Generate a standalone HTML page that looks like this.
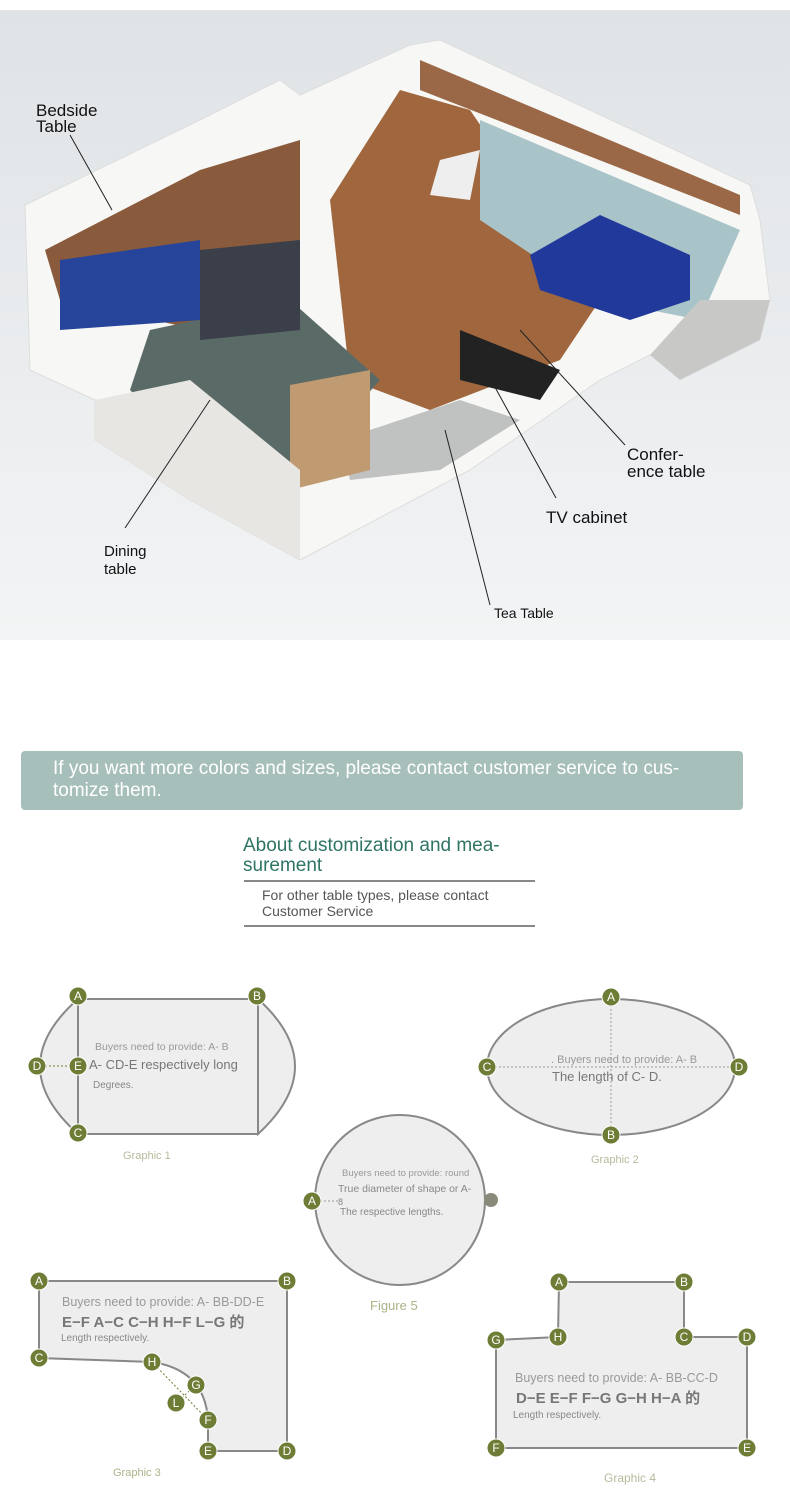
<!DOCTYPE html>
<html><head><meta charset="utf-8"><style>
html,body{margin:0;padding:0;background:#fff;width:790px;height:1506px;overflow:hidden}
svg{display:block}
text{font-family:"Liberation Sans","Noto Sans CJK SC",sans-serif}
</style></head><body>
<svg width="790" height="1506" viewBox="0 0 790 1506" xmlns="http://www.w3.org/2000/svg">
<defs>
<linearGradient id="bg" x1="0" y1="0" x2="0" y2="1"><stop offset="0" stop-color="#dfe3e6"/><stop offset="1" stop-color="#f3f4f5"/></linearGradient>
<g id="dot"><circle r="9" fill="#6e7d35" stroke="#fff" stroke-width="1"/></g>
</defs>
<rect x="0" y="10" width="790" height="630" fill="url(#bg)"/>
<polygon points="25,205 200,120 280,80 300,95 410,45 440,40 750,185 760,220 770,300 650,355 600,380 470,470 300,560 190,500 95,440 95,400 30,370" fill="#f7f7f5" stroke="#ddd"/>
<polygon points="45,250 200,170 300,140 300,300 200,330 60,300" fill="#8a5a3c"/>
<polygon points="330,200 400,90 470,110 600,300 560,360 430,410 350,380" fill="#a0673e"/>
<polygon points="150,330 290,300 380,380 300,470 190,450 130,390" fill="#5a6a66"/>
<polygon points="420,60 740,195 740,215 420,90" fill="#9a6846"/>
<polygon points="480,120 740,230 700,320 600,300 480,220" fill="#a9c4c8"/>
<polygon points="60,260 200,240 200,320 60,330" fill="#26449a"/>
<polygon points="200,250 300,240 300,330 200,340" fill="#3a3f4a"/>
<polygon points="530,255 600,215 690,255 690,300 630,320 540,290" fill="#21399a"/>
<polygon points="440,160 480,150 470,200 430,195" fill="#eee"/>
<polygon points="460,330 560,370 540,400 460,380" fill="#222"/>
<polygon points="340,440 460,400 520,420 440,470 350,480" fill="#bfc2c0"/>
<polygon points="290,385 370,370 370,470 290,490" fill="#c09a70"/>
<polygon points="95,400 190,380 300,470 300,560 190,500 95,440" fill="#e8e6e2"/>
<polygon points="650,355 700,300 770,300 760,340 680,380" fill="#c8c8c6"/>
<g stroke="#222" stroke-width="1" fill="none">
<line x1="70" y1="135" x2="112" y2="210"/>
<line x1="125" y1="528" x2="210" y2="400"/>
<line x1="625" y1="445" x2="520" y2="330"/>
<line x1="556" y1="498" x2="480" y2="360"/>
<line x1="490" y1="605" x2="445" y2="430"/>
</g>
<g fill="#111" font-size="17">
<text x="36" y="116">Bedside</text><text x="36" y="132">Table</text>
<text x="104" y="556" font-size="15">Dining</text><text x="104" y="574" font-size="15">table</text>
<text x="627" y="460">Confer-</text><text x="627" y="477">ence table</text>
<text x="546" y="523">TV cabinet</text>
<text x="494" y="618" font-size="14">Tea Table</text>
</g>
<rect x="21" y="751" width="722" height="59" rx="4" fill="#a7bfbb"/>
<text x="53" y="774" fill="#fff" font-size="19">If you want more colors and sizes, please contact customer service to cus-</text>
<text x="53" y="796" fill="#fff" font-size="19">tomize them.</text>
<text x="243" y="851" fill="#2f7464" font-size="19">About customization and mea-</text>
<text x="243" y="871" fill="#2f7464" font-size="19">surement</text>
<line x1="244" y1="881" x2="535" y2="881" stroke="#111" stroke-width="1"/>
<text x="262" y="900" fill="#555" font-size="14">For other table types, please contact</text>
<text x="262" y="916" fill="#555" font-size="14">Customer Service</text>
<line x1="244" y1="926" x2="535" y2="926" stroke="#111" stroke-width="1"/>
<g stroke="#888" stroke-width="2" fill="#eeeeee">
<path d="M78,999 Q2,1066 78,1134 Z"/>
<path d="M258,999 Q332,1066 258,1134 Z"/>
<rect x="78" y="999" width="180" height="135"/>
</g>
<line x1="37" y1="1066" x2="78" y2="1066" stroke="#6e7d35" stroke-dasharray="2,2"/>
<text x="95" y="1050" fill="#999" font-size="10.5">Buyers need to provide: A- B</text>
<text x="89" y="1069" fill="#777" font-size="13">A- CD-E respectively long</text>
<text x="93" y="1088" fill="#888" font-size="10">Degrees.</text>
<text x="123" y="1159" fill="#b4bc9c" font-size="11">Graphic 1</text>
<ellipse cx="611" cy="1067" rx="124" ry="68" fill="#eeeeee" stroke="#888" stroke-width="2"/>
<g stroke="#999" stroke-dasharray="2,2"><line x1="487" y1="1067" x2="739" y2="1067"/><line x1="611" y1="997" x2="611" y2="1135"/></g>
<text x="551" y="1063" fill="#999" font-size="11">. Buyers need to provide: A- B</text>
<text x="552" y="1081" fill="#777" font-size="13">The length of C- D.</text>
<text x="591" y="1163" fill="#b4bc9c" font-size="11">Graphic 2</text>
<circle cx="400" cy="1200" r="85" fill="#eeeeee" stroke="#888" stroke-width="2"/>
<line x1="312" y1="1201" x2="340" y2="1201" stroke="#999" stroke-dasharray="2,2"/>
<text x="342" y="1176" fill="#999" font-size="9.5">Buyers need to provide: round</text>
<text x="338" y="1192" fill="#888" font-size="10.5">True diameter of shape or A-</text>
<text x="338" y="1205" fill="#888" font-size="9">8</text>
<text x="340" y="1215" fill="#888" font-size="10">The respective lengths.</text>
<circle cx="491" cy="1200" r="7" fill="#8a8a7a"/>
<text x="370" y="1310" fill="#a9b48a" font-size="13">Figure 5</text>
<path d="M39,1281 L287,1281 L287,1451 L208,1451 L208,1420 Q205,1370 152,1362 L39,1358 Z" fill="#eeeeee" stroke="#888" stroke-width="2"/>
<g stroke="#6e7d35" stroke-dasharray="2,2"><line x1="152" y1="1362" x2="208" y2="1420"/><line x1="176" y1="1403" x2="196" y2="1385"/></g>
<text x="62" y="1306" fill="#999" font-size="12.5">Buyers need to provide: A- BB-DD-E</text>
<text x="62" y="1327" fill="#777" font-size="15" font-weight="bold">E−F A−C C−H H−F L−G 的</text>
<text x="61" y="1341" fill="#888" font-size="10">Length respectively.</text>
<text x="113" y="1476" fill="#a9b48a" font-size="11">Graphic 3</text>
<path d="M559,1282 L684,1282 L684,1337 L747,1337 L747,1448 L496,1448 L496,1340 L558,1337 Z" fill="#eeeeee" stroke="#888" stroke-width="2"/>
<text x="515" y="1382" fill="#999" font-size="12.5">Buyers need to provide: A- BB-CC-D</text>
<text x="516" y="1403" fill="#777" font-size="15" font-weight="bold">D−E E−F F−G G−H H−A 的</text>
<text x="513" y="1418" fill="#888" font-size="10">Length respectively.</text>
<text x="604" y="1482" fill="#b4bc9c" font-size="12">Graphic 4</text>
<g font-size="12" fill="#fff" text-anchor="middle">
<g transform="translate(78,996)"><use href="#dot"/><text y="4">A</text></g>
<g transform="translate(257,996)"><use href="#dot"/><text y="4">B</text></g>
<g transform="translate(37,1066)"><use href="#dot"/><text y="4">D</text></g>
<g transform="translate(78,1066)"><use href="#dot"/><text y="4">E</text></g>
<g transform="translate(78,1133)"><use href="#dot"/><text y="4">C</text></g>
<g transform="translate(611,997)"><use href="#dot"/><text y="4">A</text></g>
<g transform="translate(611,1135)"><use href="#dot"/><text y="4">B</text></g>
<g transform="translate(487,1067)"><use href="#dot"/><text y="4">C</text></g>
<g transform="translate(739,1067)"><use href="#dot"/><text y="4">D</text></g>
<g transform="translate(312,1201)"><use href="#dot"/><text y="4">A</text></g>
<g transform="translate(39,1281)"><use href="#dot"/><text y="4">A</text></g>
<g transform="translate(287,1281)"><use href="#dot"/><text y="4">B</text></g>
<g transform="translate(39,1358)"><use href="#dot"/><text y="4">C</text></g>
<g transform="translate(152,1362)"><use href="#dot"/><text y="4">H</text></g>
<g transform="translate(196,1385)"><use href="#dot"/><text y="4">G</text></g>
<g transform="translate(176,1403)"><use href="#dot"/><text y="4">L</text></g>
<g transform="translate(208,1420)"><use href="#dot"/><text y="4">F</text></g>
<g transform="translate(208,1451)"><use href="#dot"/><text y="4">E</text></g>
<g transform="translate(287,1451)"><use href="#dot"/><text y="4">D</text></g>
<g transform="translate(559,1282)"><use href="#dot"/><text y="4">A</text></g>
<g transform="translate(684,1282)"><use href="#dot"/><text y="4">B</text></g>
<g transform="translate(684,1337)"><use href="#dot"/><text y="4">C</text></g>
<g transform="translate(747,1337)"><use href="#dot"/><text y="4">D</text></g>
<g transform="translate(747,1448)"><use href="#dot"/><text y="4">E</text></g>
<g transform="translate(496,1448)"><use href="#dot"/><text y="4">F</text></g>
<g transform="translate(496,1340)"><use href="#dot"/><text y="4">G</text></g>
<g transform="translate(558,1337)"><use href="#dot"/><text y="4">H</text></g>
</g>
</svg>
</body></html>
